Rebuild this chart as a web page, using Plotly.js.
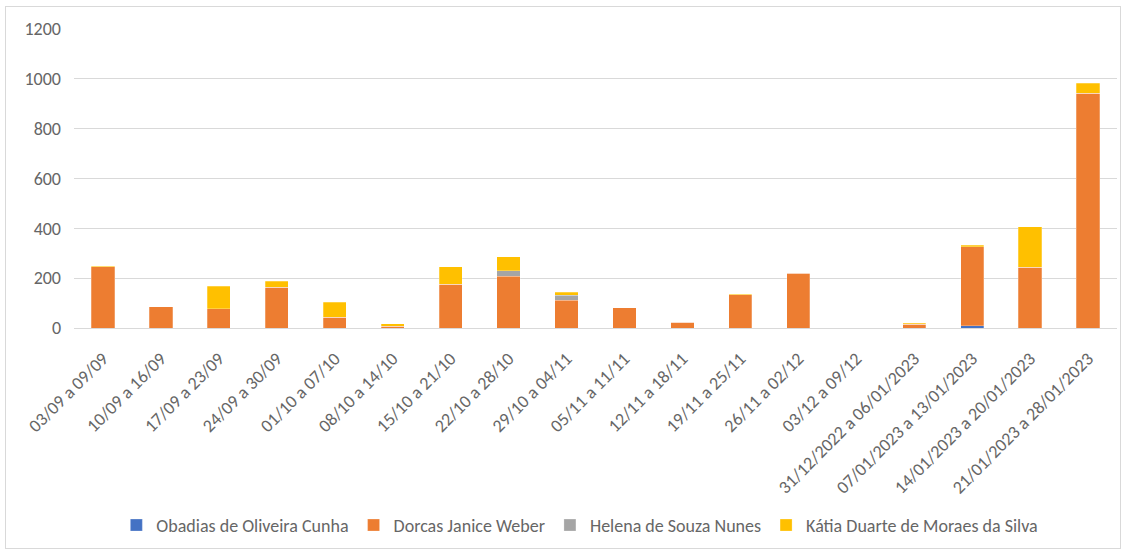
<!DOCTYPE html>
<html>
<head>
<meta charset="utf-8">
<script src="https://cdn.plot.ly/plotly-3.0.1.min.js"></script>
<style>
html,body{margin:0;padding:0;background:#fff;}
#frame{position:absolute;left:5px;top:6px;width:1114px;height:541px;border:1px solid #d9d9d9;pointer-events:none;}
#chart{position:absolute;left:0;top:0;width:1126px;height:553px;}
</style>
</head>
<body>
<div id="chart"></div>
<div id="frame"></div>
<script>
const categories = ["03/09 a 09/09","10/09 a 16/09","17/09 a 23/09","24/09 a 30/09","01/10 a 07/10","08/10 a 14/10","15/10 a 21/10","22/10 a 28/10","29/10 a 04/11","05/11 a 11/11","12/11 a 18/11","19/11 a 25/11","26/11 a 02/12","03/12 a 09/12","31/12/2022 a 06/01/2023","07/01/2023 a 13/01/2023","14/01/2023 a 20/01/2023","21/01/2023 a 28/01/2023"];
const obadias = [0,0,0,0,0,0,0,0,0,0,0,0,0,0,0,9,0,0];
const dorcas  = [246,85,77,163,44,8,175,207,111,81,23,133,220,0,15,317,243,942];
const helena  = [0,0,0,0,0,0,0,23,21,0,0,0,0,0,0,0,0,0];
const katia   = [2,0,90,24,59,9,71,56,11,0,0,2,2,0,4,7,164,41];
const seriesNames = ["Obadias de Oliveira Cunha","Dorcas Janice Weber","Helena de Souza Nunes","Kátia Duarte de Moraes da Silva"];
const yTicks = [0,200,400,600,800,1000,1200];

const colors = ["#4472C4","#ED7D31","#A5A5A5","#FFC000"];
const data = [obadias, dorcas, helena, katia].map((vals, i) => ({
  type: 'bar', x: categories, y: vals, name: seriesNames[i],
  marker: {color: colors[i], line: {color: 'rgba(255,255,255,0.5)', width: 0.5}},
  hoverinfo: 'skip'
}));

const font = "Calibri, Carlito, 'Liberation Sans', Arial, sans-serif";
const layout = {
  width: 1126, height: 553,
  margin: {l: 74, r: 9, t: 29, b: 221},
  barmode: 'stack', bargap: 0.6,
  paper_bgcolor: '#fff', plot_bgcolor: '#fff',
  font: {family: font, color: '#666666', size: 18},
  xaxis: {
    type: 'category', tickangle: -45, tickfont: {size: 18, color: '#666666'},
    showgrid: false, showline: true, linecolor: '#d9d9d9', linewidth: 1,
    ticks: '', automargin: false, ticklabelstandoff: 12
  },
  yaxis: {
    range: [0, 1200], tickvals: yTicks, ticktext: yTicks.map(String),
    showgrid: true, gridcolor: '#d9d9d9', gridwidth: 1,
    zeroline: false, showline: false, ticks: '',
    tickfont: {size: 18, color: '#666666'}, ticklabelstandoff: 12, automargin: false
  },
  legend: {
    orientation: 'h', x: 0.485, xanchor: 'center', y: -0.66, yanchor: 'middle',
    font: {size: 18, color: '#666666'}, itemwidth: 30, traceorder: 'normal'
  },
  showlegend: true
};
Plotly.newPlot('chart', data, layout, {displayModeBar: false, staticPlot: true});
</script>
</body>
</html>
